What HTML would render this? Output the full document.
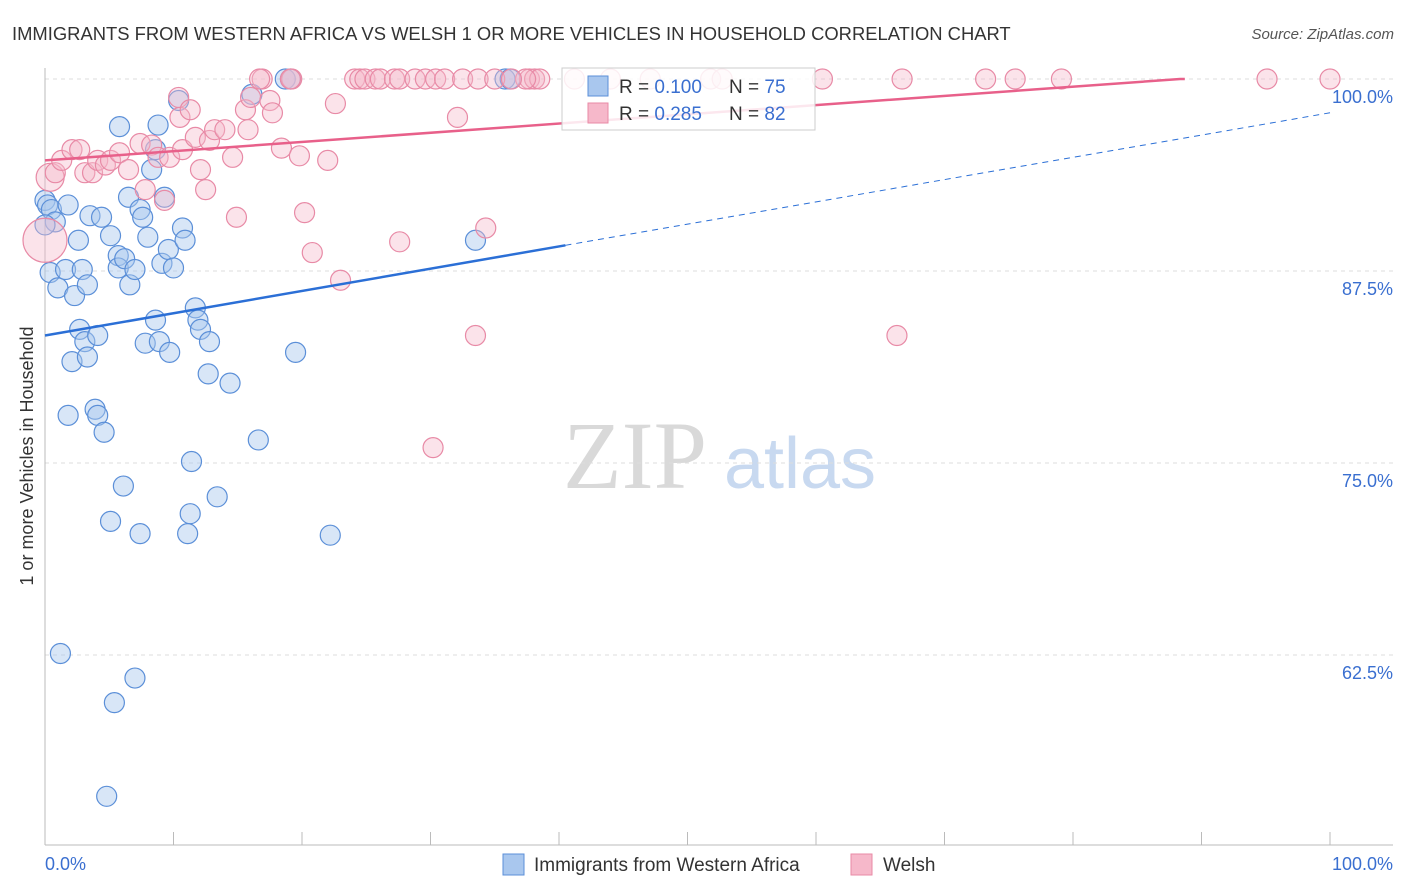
<!DOCTYPE html>
<html><head><meta charset="utf-8"><style>
body{margin:0;background:#fff;font-family:"Liberation Sans",sans-serif;}
</style></head><body>
<svg width="1406" height="892" xmlns="http://www.w3.org/2000/svg" style="display:block">
<text x="12" y="40" font-size="18.4" fill="#333">IMMIGRANTS FROM WESTERN AFRICA VS WELSH 1 OR MORE VEHICLES IN HOUSEHOLD CORRELATION CHART</text>
<text x="1394" y="39" font-size="15" fill="#555" text-anchor="end" font-style="italic">Source: ZipAtlas.com</text>
<g>
<text x="635" y="488" font-size="96" fill="#d9d9d9" font-family="Liberation Serif" text-anchor="middle">ZIP</text>
<text x="800" y="488" font-size="72" fill="#c8d9f0" text-anchor="middle">atlas</text>
</g>
<g id="grid"></g>
<g id="axes"></g>
<g id="pts"></g>
<g id="lines"></g>
<text transform="translate(33,456) rotate(-90)" font-size="18" fill="#333" text-anchor="middle">1 or more Vehicles in Household</text>
<text x="45" y="870" font-size="18" fill="#3a6fd0">0.0%</text>
<text x="1393" y="870" font-size="18" fill="#3a6fd0" text-anchor="end">100.0%</text>
<g>
<rect x="562" y="68" width="253" height="62" fill="#fff" fill-opacity="0.85" stroke="#ccc"/>
<rect x="588" y="76" width="20" height="20" fill="#a9c7ee" stroke="#5b8fd8"/>
<rect x="588" y="103" width="20" height="20" fill="#f6b8ca" stroke="#e88aa6"/>
<text x="619" y="93" font-size="19" fill="#333">R = <tspan fill="#3a6fd0">0.100</tspan></text>
<text x="729" y="93" font-size="19" fill="#333">N = <tspan fill="#3a6fd0">75</tspan></text>
<text x="619" y="120" font-size="19" fill="#333">R = <tspan fill="#3a6fd0">0.285</tspan></text>
<text x="729" y="120" font-size="19" fill="#333">N = <tspan fill="#3a6fd0">82</tspan></text>
</g>
<g>
<rect x="503" y="854" width="21" height="21" fill="#a9c7ee" stroke="#5b8fd8"/>
<text x="534" y="871" font-size="19" fill="#333">Immigrants from Western Africa</text>
<rect x="851" y="854" width="21" height="21" fill="#f6b8ca" stroke="#e88aa6"/>
<text x="883" y="871" font-size="19" fill="#333">Welsh</text>
</g>
</svg>
<script>
const yTicks=[100,87.5,75,62.5];
const yTickLabels=["100.0%","87.5%","75.0%","62.5%"];
const blueX=[0,0.2,0.5,0.8,1.8,0.4,1.0,1.6,2.3,2.6,2.9,3.3,3.5,4.4,5.1,5.7,5.7,6.2,6.6,7.0,5.8,6.5,7.4,7.6,8.0,8.3,8.6,8.8,9.3,9.1,9.6,10.0,10.7,10.9,10.4,11.7,11.9,12.1,12.8,8.6,7.8,8.9,9.7,2.7,3.1,4.1,2.1,3.3,12.7,14.4,1.8,3.9,4.1,4.6,16.6,11.4,6.1,5.1,7.4,11.3,11.1,13.4,22.2,19.5,16.1,18.7,19.1,33.5,35.8,36.2,1.2,7.0,5.4,4.8,0];
const blueY=[92.1,91.8,91.5,90.7,91.8,87.4,86.4,87.6,85.9,89.5,87.6,86.6,91.1,91.0,89.8,88.5,87.7,88.3,86.6,87.6,96.9,92.3,91.5,91.0,89.7,94.1,95.4,97.0,92.3,88.0,88.9,87.7,90.3,89.5,98.6,85.1,84.3,83.7,82.9,84.3,82.8,82.9,82.2,83.7,82.9,83.3,81.6,81.9,80.8,80.2,78.1,78.5,78.1,77.0,76.5,75.1,73.5,71.2,70.4,71.7,70.4,72.8,70.3,82.2,99.0,100,100,89.5,100,100,62.6,61.0,59.4,53.3,90.5];
const pinkX=[0,0.4,0.8,1.3,2.1,2.7,3.1,3.7,4.1,4.7,5.1,5.8,6.5,7.4,7.8,8.3,8.8,9.3,9.7,10.5,10.4,10.7,11.3,11.7,12.1,12.5,12.8,13.2,14.0,14.6,14.9,15.6,15.8,16.0,16.9,17.5,17.7,18.4,19.8,20.2,20.8,22.0,22.6,23.0,24.1,24.5,24.9,25.7,26.1,27.2,27.6,28.8,29.6,30.4,31.1,32.5,33.7,35.0,37.7,38.1,38.5,41.2,47.1,16.7,19.2,19.1,32.1,34.3,27.6,33.5,30.2,37.4,36.3,44.0,51.8,52.7,60.5,66.7,73.2,75.5,79.1,95.1,100,66.3];
const pinkY=[89.5,93.6,93.9,94.7,95.4,95.4,93.9,93.9,94.7,94.4,94.7,95.2,94.1,95.8,92.8,95.7,94.9,92.1,94.9,97.5,98.8,95.4,98.0,96.2,94.1,92.8,96.0,96.7,96.7,94.9,91.0,98.0,96.7,98.8,100,98.6,97.8,95.5,95.0,91.3,88.7,94.7,98.4,86.9,100,100,100,100,100,100,100,100,100,100,100,100,100,100,100,100,100,100,100,100,100,100,97.5,90.3,89.4,83.3,76.0,100,100,100,100,100,100,100,100,100,100,100,100,83.3];
const blueTrend=[83.3,97.8];
const pinkTrend=[94.7,100.7];
const X=v=>45+v*12.85, Y=v=>79+(100-v)*15.36;
const NS="http://www.w3.org/2000/svg";
function mk(t,a,p){const e=document.createElementNS(NS,t);for(const k in a)e.setAttribute(k,a[k]);p.appendChild(e);return e;}
const grid=document.getElementById('grid'),axes=document.getElementById('axes'),pts=document.getElementById('pts'),lines=document.getElementById('lines');
yTicks.forEach((t,i)=>{
 const g=mk('line',{x1:45,x2:1393,y1:Y(t),y2:Y(t),stroke:'#ddd','stroke-dasharray':'4,4'},grid);
 
 
 const l=mk('text',{x:1393,y:Y(t)+24,'font-size':18,fill:'#3a6fd0','text-anchor':'end'},axes);
 l.textContent=yTickLabels[i];
 
 
});
const ax=mk('line',{x1:45,x2:45,y1:68,y2:845,stroke:'#bbb'},axes);


const bx=mk('line',{x1:45,x2:1393,y1:845,y2:845,stroke:'#bbb'},axes);


for(let i=0;i<=10;i++){const t=mk('line',{x1:X(i*10),x2:X(i*10),y1:832,y2:845,stroke:'#bbb'},axes);
 
 }
blueX.forEach((x,i)=>{const c=mk('circle',{cx:X(x),cy:Y(blueY[i]),r:10,fill:'#a9c7ee','fill-opacity':0.45,stroke:'#5b8fd8','stroke-width':1.2},pts);
 
 });
pinkX.forEach((x,i)=>{const r=i==0?22:(i==1?14:10);const c=mk('circle',{cx:X(x),cy:Y(pinkY[i]),r:r,fill:'#f6b8ca','fill-opacity':0.4,stroke:'#e88aa6','stroke-width':1.2},pts);
 
 });
const bAt=x=>blueTrend[0]+(blueTrend[1]-blueTrend[0])*x/100;
const b1=mk('line',{x1:X(0),y1:Y(bAt(0)),x2:X(40.5),y2:Y(bAt(40.5)),stroke:'#2b6fd6','stroke-width':2.5},lines);


const b2=mk('line',{x1:X(40.5),y1:Y(bAt(40.5)),x2:X(100),y2:Y(bAt(100)),stroke:'#2b6fd6','stroke-width':1,'stroke-dasharray':'6,5'},lines);


const pAt=x=>Math.min(100,pinkTrend[0]+(pinkTrend[1]-pinkTrend[0])*x/100);
const xc=(100-pinkTrend[0])/(pinkTrend[1]-pinkTrend[0])*100;
const p1=mk('polyline',{points:`${X(0)},${Y(pAt(0))} ${X(xc)},${Y(100)} ${X(88.7)},${Y(100)}`,fill:'none',stroke:'#e8608a','stroke-width':2.5},lines);


</script>
</body></html>
